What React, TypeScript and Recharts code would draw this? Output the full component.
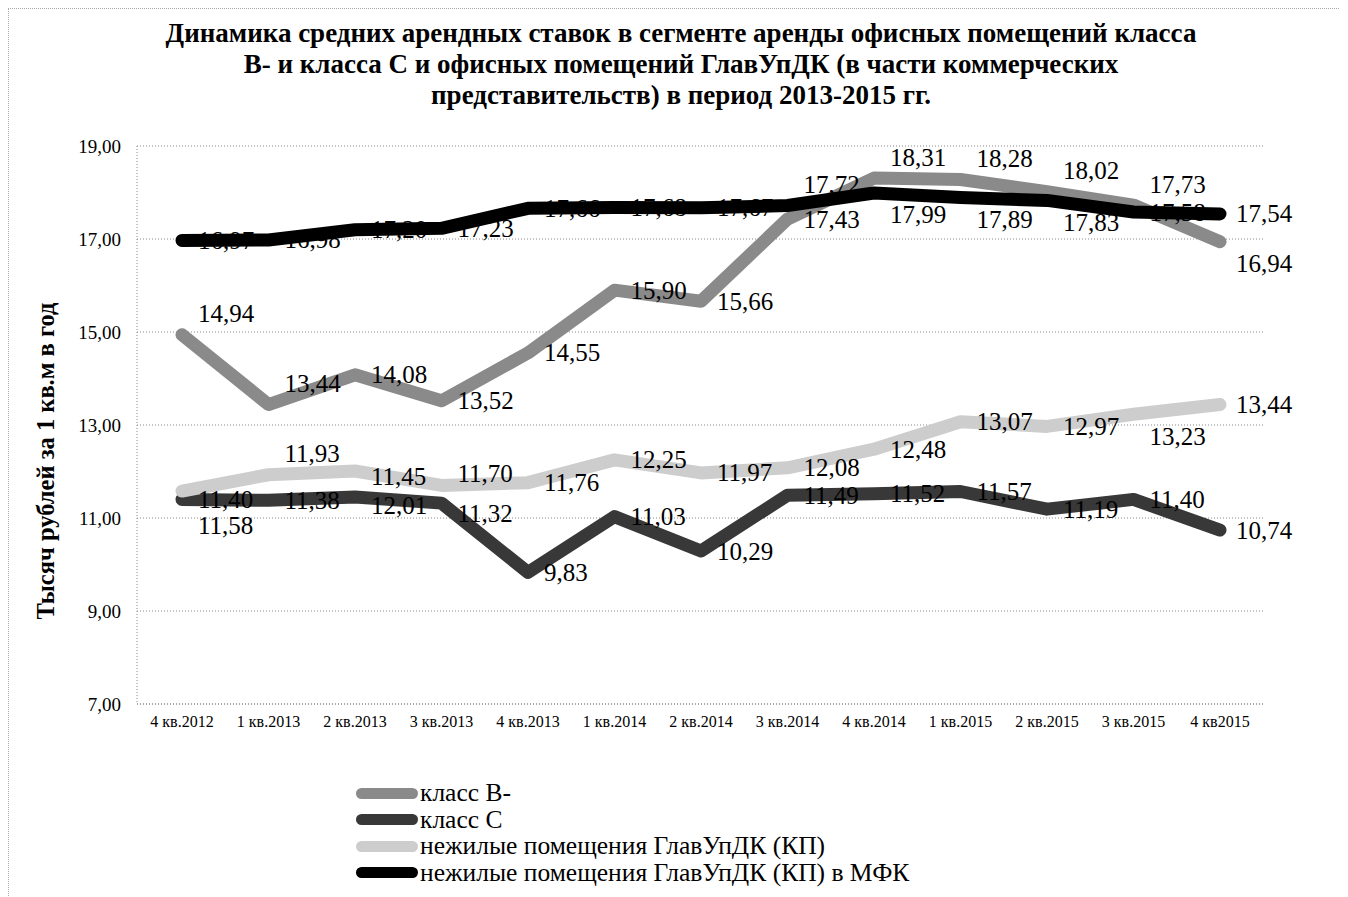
import { LineChart, Line, XAxis, YAxis, CartesianGrid, LabelList } from 'recharts'

const QUARTERS = [
  '4 кв.2012', '1 кв.2013', '2 кв.2013', '3 кв.2013', '4 кв.2013', '1 кв.2014', '2 кв.2014',
  '3 кв.2014', '4 кв.2014', '1 кв.2015', '2 кв.2015', '3 кв.2015', '4 кв2015',
]
const CLASS_B = [14.94, 13.44, 14.08, 13.52, 14.55, 15.9, 15.66, 17.43, 18.31, 18.28, 18.02, 17.73, 16.94]
const CLASS_C = [11.4, 11.38, 11.45, 11.32, 9.83, 11.03, 10.29, 11.49, 11.52, 11.57, 11.19, 11.4, 10.74]
const GUPDK = [11.58, 11.93, 12.01, 11.7, 11.76, 12.25, 11.97, 12.08, 12.48, 13.07, 12.97, 13.23, 13.44]
const GUPDK_MFK = [16.97, 16.98, 17.2, 17.23, 17.66, 17.68, 17.67, 17.72, 17.99, 17.89, 17.83, 17.58, 17.54]
const Y_TICKS = [7, 9, 11, 13, 15, 17, 19]

// where each data label sits against its point:
// u = above, h = a little above, m = beside, e = a little below, d = below, D = well below
const LABEL_SIDE: Record<string, string> = {
  b: 'uummmmmmuuuud',
  c: 'mmuemmmmmmmmm',
  kp: 'DuDhmmmmmmmdm',
  mfk: 'mmmmmmmudddmm',
}
const SIDE_DY: Record<string, number> = { u: -21, h: -12, m: 0, e: 10, d: 22, D: 34 }

const SERIES = [
  { key: 'b', name: 'класс В-', color: '#8a8a8a' },
  { key: 'c', name: 'класс С', color: '#383838' },
  { key: 'kp', name: 'нежилые помещения ГлавУпДК (КП)', color: '#cdcdcd' },
  { key: 'mfk', name: 'нежилые помещения ГлавУпДК (КП) в МФК', color: '#000000' },
]

const rows = QUARTERS.map((q, i) => ({
  q,
  b: CLASS_B[i],
  c: CLASS_C[i],
  kp: GUPDK[i],
  mfk: GUPDK_MFK[i],
}))

const SERIF = '"Liberation Serif", "Times New Roman", serif'
const fmt = (v: number) => v.toFixed(2).replace('.', ',')

function makeLabel(key: string) {
  // eslint-disable-next-line @typescript-eslint/no-explicit-any
  return (props: any) => {
    const { x, y, value, index } = props
    const dy = SIDE_DY[LABEL_SIDE[key][index] ?? 'm']
    return (
      <text x={x + 16} y={y + dy} dominantBaseline="central" fontSize={25} fontFamily={SERIF} fill="#000">
        {fmt(value)}
      </text>
    )
  }
}

export default function App() {
  return (
    <div
      style={{
        position: 'relative',
        width: 1332,
        height: 889,
        background: '#fff',
        borderTop: '1px dotted #aaa',
        borderLeft: '1px dotted #aaa',
        fontFamily: SERIF,
      }}
    >
      <div
        style={{
          position: 'absolute',
          top: 9,
          left: 0,
          width: 1332,
          textAlign: 'center',
          fontWeight: 'bold',
          fontSize: 27,
          lineHeight: '31px',
          paddingLeft: 12,
          boxSizing: 'border-box',
        }}
      >
        Динамика средних арендных ставок в сегменте аренды офисных помещений класса
        <br />
        В- и класса С и офисных помещений ГлавУпДК (в части коммерческих
        <br />
        представительств) в период 2013-2015 гг.
      </div>

      <div
        style={{
          position: 'absolute',
          left: 37 - 200,
          top: 452 - 15,
          width: 400,
          height: 30,
          lineHeight: '30px',
          textAlign: 'center',
          transform: 'rotate(-90deg)',
          fontWeight: 'bold',
          fontSize: 24.5,
        }}
      >
        Тысяч рублей за 1 кв.м в год
      </div>

      <div style={{ position: 'absolute', left: 0, top: 0 }}>
        <LineChart width={1332} height={740} data={rows} margin={{ top: 137, right: 78, bottom: 15, left: 68 }}>
          <CartesianGrid vertical={false} stroke="#888" strokeDasharray="1 2" />
          <XAxis
            dataKey="q"
            interval={0}
            padding={{ left: 45, right: 43 }}
            axisLine={{ stroke: '#888', strokeDasharray: '1 2' }}
            tickLine={false}
            tickMargin={6}
            height={30}
            tick={{ fontSize: 16, fontFamily: SERIF, fill: '#000' }}
          />
          <YAxis
            domain={[7, 19]}
            ticks={Y_TICKS}
            tickFormatter={fmt}
            width={60}
            axisLine={{ stroke: '#888', strokeDasharray: '1 2' }}
            tickLine={false}
            tickMargin={10}
            tick={{ fontSize: 19, fontFamily: SERIF, fill: '#000' }}
          />
          {SERIES.map((s) => (
            <Line
              key={s.key}
              dataKey={s.key}
              name={s.name}
              type="linear"
              stroke={s.color}
              strokeWidth={13}
              strokeLinecap="round"
              strokeLinejoin="round"
              dot={false}
              activeDot={false}
              isAnimationActive={false}
            >
              <LabelList dataKey={s.key} content={makeLabel(s.key)} />
            </Line>
          ))}
        </LineChart>
      </div>

      <div style={{ position: 'absolute', left: 347, top: 771 }}>
        {SERIES.map((s) => (
          <div key={s.key} style={{ display: 'flex', alignItems: 'center', height: 26.5 }}>
            <div style={{ width: 62, height: 11, borderRadius: 6, background: s.color, marginRight: 2 }} />
            <span style={{ fontSize: 25.5, lineHeight: '24px', color: '#000' }}>{s.name}</span>
          </div>
        ))}
      </div>
    </div>
  )
}
